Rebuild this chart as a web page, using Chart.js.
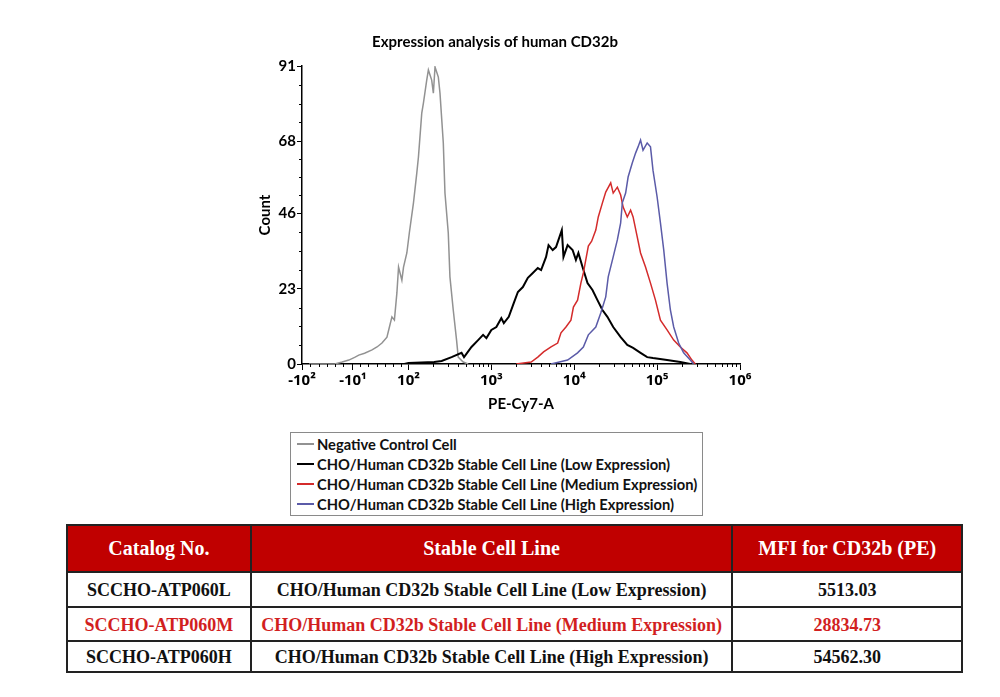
<!DOCTYPE html>
<html>
<head>
<meta charset="utf-8">
<script src="https://cdn.jsdelivr.net/npm/chart.js@4.4.0/dist/chart.umd.min.js"></script>
<style>
  body { margin: 0; background: #fff; width: 1000px; height: 697px; position: relative; overflow: hidden; }
  #wrap { position: absolute; left: 0; top: 0; width: 1000px; height: 420px; }
  #legend { position: absolute; left: 290px; top: 432px; width: 413px; height: 84px; border: 1px solid #8a8a8a;
            font-family: Lato, sans-serif; font-weight: bold; font-size: 14.7px; color: #111; box-sizing: border-box; padding-top: 1px; }
  #legend .item { height: 20px; line-height: 20px; display: flex; align-items: center; }
  #legend .swatch { display: inline-block; width: 17px; height: 2px; margin: 0 3px 0 6px; }
  #tbl { position: absolute; left: 66px; top: 524px; width: 897px; height: 145px; border-collapse: collapse;
         border: 2px solid #111; font-family: 'Liberation Serif', serif; font-weight: bold; }
  #tbl th { background: #c00000; color: #fff; font-size: 20px; height: 43px; border: 2px solid #222; }
  #tbl td { font-size: 18px; text-align: center; border: 2px solid #222; padding-top: 3px; color: #111; }
  #tbl tr.hl td { color: #d21f1f; }
</style>
</head>
<body>
<div id="wrap"><canvas id="chart" width="1000" height="420"></canvas></div>
<div id="legend"></div>
<table id="tbl"></table>
<script>
// axis ticks (x is in decade units of the biexponential display)
const xTickValues = [0.715, 1.33, 2, 3, 4, 5, 6];
const xTickLabels = ['-10²', '-10¹', '10²', '10³', '10⁴', '10⁵', '10⁶'];
const yTickValues = [0, 23, 46, 68, 91];

const seriesNames = [
    'Negative Control Cell',
    'CHO/Human CD32b Stable Cell Line (Low Expression)',
    'CHO/Human CD32b Stable Cell Line (Medium Expression)',
    'CHO/Human CD32b Stable Cell Line (High Expression)'
];
const seriesColors = ['#929292', '#000000', '#d42b2b', '#5b5ba8'];

const negX = [0.80, 1.11, 1.20, 1.28, 1.35, 1.40, 1.47, 1.56, 1.62, 1.68, 1.74, 1.77, 1.80, 1.83, 1.86, 1.88, 1.92, 1.94, 1.98, 2.01, 2.06, 2.10, 2.12, 2.16, 2.18, 2.22, 2.24, 2.28, 2.30, 2.32, 2.36, 2.38, 2.42, 2.44, 2.48, 2.50, 2.54, 2.58, 2.60, 2.66, 2.72];
const negY = [0, 0, 0.6, 1.2, 2.0, 2.7, 3.3, 4.3, 5.2, 6.4, 8.2, 11.3, 14.4, 13.4, 21.7, 29.6, 25.6, 29.6, 33.9, 40.0, 49.2, 58.3, 63.2, 76.6, 79.7, 86.7, 89.8, 86.7, 82.7, 90.7, 87.6, 82.7, 67.5, 52.2, 40.0, 26.6, 16.5, 7.3, 2.1, 0.6, 0];

const lowX = [1.95, 2.00, 2.31, 2.40, 2.52, 2.64, 2.67, 2.76, 2.84, 2.90, 2.94, 3.00, 3.06, 3.12, 3.15, 3.21, 3.27, 3.32, 3.38, 3.44, 3.50, 3.56, 3.60, 3.66, 3.69, 3.74, 3.78, 3.85, 3.87, 3.92, 3.98, 4.02, 4.05, 4.10, 4.16, 4.22, 4.28, 4.34, 4.40, 4.47, 4.56, 4.64, 4.71, 4.80, 4.88, 4.95, 5.12, 5.28, 5.40];
const lowY = [0, 0.3, 0.6, 0.9, 2.1, 3.4, 2.1, 5.2, 7.3, 8.9, 7.9, 10.4, 11.3, 14.0, 12.5, 14.4, 18.6, 22.0, 23.5, 26.3, 27.8, 29.3, 28.7, 32.7, 36.3, 34.8, 35.7, 40.9, 32.7, 36.3, 34.8, 31.8, 33.9, 29.6, 24.7, 22.6, 19.5, 16.5, 14.4, 11.3, 8.2, 5.8, 4.9, 3.4, 2.1, 1.8, 1.2, 0.6, 0];

const medX = [3.30, 3.48, 3.56, 3.63, 3.72, 3.80, 3.84, 3.90, 3.96, 3.99, 4.04, 4.08, 4.11, 4.17, 4.21, 4.26, 4.29, 4.34, 4.38, 4.44, 4.47, 4.52, 4.56, 4.59, 4.64, 4.68, 4.71, 4.76, 4.80, 4.86, 4.92, 4.98, 5.04, 5.12, 5.20, 5.28, 5.36, 5.42, 5.46];
const medY = [0, 0.6, 2.1, 3.7, 5.2, 6.4, 9.5, 11.3, 13.4, 17.4, 19.5, 24.7, 27.8, 36.0, 37.5, 40.9, 44.9, 49.2, 52.5, 55.3, 52.2, 54.0, 51.6, 47.9, 44.9, 47.0, 44.9, 38.8, 33.9, 29.6, 24.7, 19.5, 13.4, 10.4, 7.3, 5.2, 3.4, 1.2, 0];

const highX = [3.72, 3.92, 4.04, 4.11, 4.17, 4.26, 4.32, 4.38, 4.41, 4.47, 4.52, 4.56, 4.58, 4.62, 4.65, 4.70, 4.74, 4.77, 4.80, 4.83, 4.88, 4.92, 4.95, 5.00, 5.04, 5.08, 5.12, 5.16, 5.20, 5.26, 5.32, 5.40, 5.44];
const highY = [0, 1.2, 3.4, 5.2, 8.9, 11.3, 15.6, 20.5, 26.6, 32.7, 37.9, 43.1, 49.2, 52.2, 57.1, 61.4, 64.4, 66.3, 68.4, 65.3, 67.5, 66.3, 59.2, 51.0, 43.1, 34.8, 24.7, 16.5, 11.3, 6.4, 3.4, 1.2, 0];

// table below the chart
const catalogNos = ['SCCHO-ATP060L', 'SCCHO-ATP060M', 'SCCHO-ATP060H'];
const cellLines = seriesNames.slice(1);
const mfiValues = ['5513.03', '28834.73', '54562.30'];

const font = { family: 'Lato, sans-serif', weight: 'bold', size: 15 };

function toPoints(xs, ys) {
    return xs.map((x, i) => ({ x: x, y: ys[i] }));
}

// small minor ticks on both axes
const minorTicks = {
    id: 'minorTicks',
    afterDraw(chart) {
        const { ctx, scales: { x, y } } = chart;
        ctx.save();
        ctx.strokeStyle = '#000';
        ctx.lineWidth = 1;
        const xs = [];
        for (let v = 0.815; v < 2; v += 0.1) xs.push(v);
        for (let d = 2; d < 6; d++) {
            for (let k = 2; k <= 9; k++) xs.push(d + Math.log10(k));
        }
        ctx.beginPath();
        xs.forEach(v => {
            const px = Math.round(x.getPixelForValue(v)) + 0.5;
            ctx.moveTo(px, y.bottom);
            ctx.lineTo(px, y.bottom + 3);
        });
        for (let i = 0; i < yTickValues.length - 1; i++) {
            const a = yTickValues[i], b = yTickValues[i + 1];
            for (let q = 1; q < 4; q++) {
                const py = Math.round(y.getPixelForValue(a + (b - a) * q / 4)) + 0.5;
                ctx.moveTo(x.left, py);
                ctx.lineTo(x.left - 3, py);
            }
        }
        ctx.stroke();
        ctx.restore();
    }
};

const datasets = [
    { label: seriesNames[0], data: toPoints(negX, negY), borderColor: seriesColors[0], borderWidth: 1.5, order: 4 },
    { label: seriesNames[1], data: toPoints(lowX, lowY), borderColor: seriesColors[1], borderWidth: 2, order: 3 },
    { label: seriesNames[2], data: toPoints(medX, medY), borderColor: seriesColors[2], borderWidth: 1.5, order: 2 },
    { label: seriesNames[3], data: toPoints(highX, highY), borderColor: seriesColors[3], borderWidth: 1.5, order: 1 }
];

new Chart(document.getElementById('chart'), {
    type: 'line',
    data: { datasets: datasets },
    options: {
        responsive: false,
        animation: false,
        layout: { padding: { left: 250, right: 260, top: 0, bottom: 0 } },
        elements: { point: { radius: 0 }, line: { tension: 0, fill: false } },
        plugins: {
            legend: { display: false },
            tooltip: { enabled: false },
            title: {
                display: true,
                text: 'Expression analysis of human CD32b',
                color: '#000',
                font: font,
                padding: { top: 33, bottom: 15 }
            }
        },
        scales: {
            x: {
                type: 'linear',
                min: 0.715,
                max: 6,
                afterBuildTicks: s => { s.ticks = xTickValues.map(v => ({ value: v })); },
                afterFit: s => { s.height = 56; },
                ticks: {
                    autoSkip: false,
                    maxRotation: 0,
                    color: '#000',
                    padding: 2,
                    font: { family: "'Noto Sans', 'DejaVu Sans', sans-serif", weight: 'bold', size: 15 },
                    callback: (v, i) => xTickLabels[i]
                },
                grid: { drawOnChartArea: false, tickLength: 6, tickColor: '#000' },
                border: { color: '#000', width: 1.5 },
                title: { display: true, text: 'PE-Cy7-A', color: '#000', font: font, padding: { top: 0, bottom: 7 } }
            },
            y: {
                min: 0,
                max: 91,
                afterBuildTicks: s => { s.ticks = yTickValues.map(v => ({ value: v })); },
                afterFit: s => { s.width = 52; },
                ticks: { color: '#000', padding: 1, font: font },
                grid: { drawOnChartArea: false, tickLength: 5, tickColor: '#000' },
                border: { color: '#000', width: 1.5 },
                title: { display: true, text: 'Count', color: '#000', font: font, padding: { top: 6, bottom: 0 } }
            }
        }
    },
    plugins: [minorTicks]
});

// html legend from the series names
const legend = document.getElementById('legend');
seriesNames.forEach((name, i) => {
    const row = document.createElement('div');
    row.className = 'item';
    row.innerHTML = '<span class="swatch" style="background:' + seriesColors[i] + '"></span>' + name;
    legend.appendChild(row);
});

// table
const tbl = document.getElementById('tbl');
let html = '<colgroup><col style="width:184px"><col style="width:483px"><col style="width:230px"></colgroup>';
html += '<tr><th>Catalog No.</th><th>Stable Cell Line</th><th>MFI for CD32b (PE)</th></tr>';
const rowHeights = [35, 34, 31];
catalogNos.forEach((c, i) => {
    html += '<tr' + (i === 1 ? ' class="hl"' : '') + ' style="height:' + rowHeights[i] + 'px"><td>' + c + '</td><td>' + cellLines[i] + '</td><td>' + mfiValues[i] + '</td></tr>';
});
tbl.innerHTML = html;
</script>
</body>
</html>
